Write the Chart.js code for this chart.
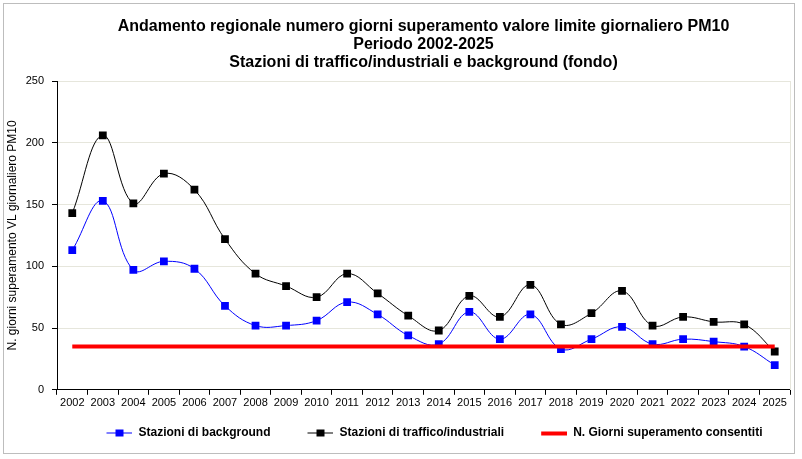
<!DOCTYPE html>
<html>
<head>
<meta charset="utf-8">
<script src="https://cdn.jsdelivr.net/npm/chart.js@4.4.1/dist/chart.umd.min.js"></script>
<style>
  html, body { margin: 0; padding: 0; background: #fff; }
  #wrap { position: relative; width: 802px; height: 459px; }
  #frame { position: absolute; left: 3px; top: 3px; width: 790px; height: 449px; border: 1px solid #bdbdbd; pointer-events: none; }
</style>
</head>
<body>
<div id="wrap">
  <canvas id="pm10Chart" width="802" height="459"></canvas>
  <div id="frame"></div>
</div>
<script>
const years = ["2002", "2003", "2004", "2005", "2006", "2007", "2008", "2009", "2010", "2011", "2012", "2013",
               "2014", "2015", "2016", "2017", "2018", "2019", "2020", "2021", "2022", "2023", "2024", "2025"];
const backgroundStations = [113, 153, 97, 104, 98, 68, 52, 52, 56, 71, 61, 44, 37, 63, 41, 61, 33, 41, 51, 37, 41, 39, 35, 20];
const trafficStations = [143, 206, 151, 175, 162, 122, 94, 84, 75, 94, 78, 60, 48, 76, 59, 85, 53, 62, 80, 52, 59, 55, 53, 31];
const allowedDays = [35, 35, 35, 35, 35, 35, 35, 35, 35, 35, 35, 35, 35, 35, 35, 35, 35, 35, 35, 35, 35, 35, 35, 35];
const yTicks = [0, 50, 100, 150, 200, 250];

const titleLines = [
  "Andamento regionale numero giorni superamento valore limite giornaliero PM10",
  "Periodo 2002-2025",
  "Stazioni di traffico/industriali e background (fondo)"
];

// legend symbol: line with a square in the middle (excel style), drawn at the right end
// of a wider box so the items get the wide spacing of the original
const SYMBOL_BOX = 48;
const legendSymbol = (color, withSquare, thickness) => {
  const c = document.createElement("canvas");
  c.width = SYMBOL_BOX;
  c.height = 9;
  const ctx = c.getContext("2d");
  const x0 = SYMBOL_BOX - 26;
  ctx.fillStyle = color;
  ctx.fillRect(x0, Math.round(4.5 - thickness / 2), 26, thickness);
  if (withSquare) {
    ctx.fillRect(x0 + 9, 1, 8, 7);
  }
  return c;
};

const FONT = "'Liberation Sans', Arial, sans-serif";
Chart.defaults.font.family = FONT;
Chart.defaults.color = "#000";

new Chart(document.getElementById("pm10Chart"), {
  type: "line",
  data: {
    labels: years,
    datasets: [{
      label: "Stazioni di background",
      data: backgroundStations,
      borderColor: "#0000ff",
      backgroundColor: "#0000ff",
      borderWidth: 1,
      tension: 0.4,
      pointStyle: "rect",
      pointRadius: 5.5,
      pointBorderWidth: 0,
      pointHoverRadius: 5.5,
    },{
      label: "Stazioni di traffico/industriali",
      data: trafficStations,
      borderColor: "#000000",
      backgroundColor: "#000000",
      borderWidth: 1,
      tension: 0.4,
      pointStyle: "rect",
      pointRadius: 5.5,
      pointBorderWidth: 0,
      pointHoverRadius: 5.5,
    },{
      label: "N. Giorni superamento consentiti",
      data: allowedDays,
      borderColor: "#ff0000",
      backgroundColor: "#ff0000",
      borderWidth: 4,
      pointRadius: 0,
      order: -1,
    }],
  },
  options: {
    responsive: false,
    animation: false,
    layout: {
      padding: { left: 5, right: 12, top: 5, bottom: 10 }
    },
    scales: {
      x: {
        offset: true,
        grid: {
          offset: true,
          drawOnChartArea: false,
          tickLength: 5,
          tickColor: "#000",
        },
        border: { color: "#000" },
        ticks: {
          font: { size: 11 },
          padding: 2,
          maxRotation: 0,
          autoSkip: false,
        },
      },
      y: {
        min: 0,
        max: 250,
        afterBuildTicks: (scale) => {
          scale.ticks = yTicks.map(v => ({ value: v }));
        },
        afterFit: (scale) => {
          scale.width = 52;
        },
        grid: {
          color: "#e6e6dc",
          tickLength: 5,
          tickColor: "#000",
        },
        border: { color: "#000" },
        ticks: {
          font: { size: 11 },
          padding: 8,
        },
        title: {
          display: true,
          text: "N. giorni superamento VL giornaliero PM10",
          font: { size: 12 },
          padding: { top: 0, bottom: 4 },
        },
      },
      yRight: {
        position: "right",
        min: 0,
        max: 250,
        grid: { drawOnChartArea: false, drawTicks: false },
        border: { color: "#e6e6dc" },
        ticks: { display: false },
      },
    },
    plugins: {
      tooltip: { enabled: false },
      title: {
        display: true,
        fullSize: false,
        text: titleLines,
        font: { size: 16, weight: "bold", lineHeight: 1.125 },
        padding: { top: 13, bottom: 9 },
      },
      legend: {
        position: "bottom",
        fullSize: false,
        labels: {
          usePointStyle: true,
          pointStyleWidth: SYMBOL_BOX,
          padding: 15,
          font: { size: 12, weight: "bold" },
          generateLabels: (chart) => chart.data.datasets.map((ds, i) => ({
            text: ds.label,
            datasetIndex: i,
            pointStyle: i === 2 ? legendSymbol(ds.borderColor, false, 4) : legendSymbol(ds.borderColor, true, 1),
            fillStyle: ds.borderColor,
            strokeStyle: ds.borderColor,
            lineWidth: 0,
            hidden: !chart.isDatasetVisible(i),
          })),
        },
      },
    },
  },
});
</script>
</body>
</html>
